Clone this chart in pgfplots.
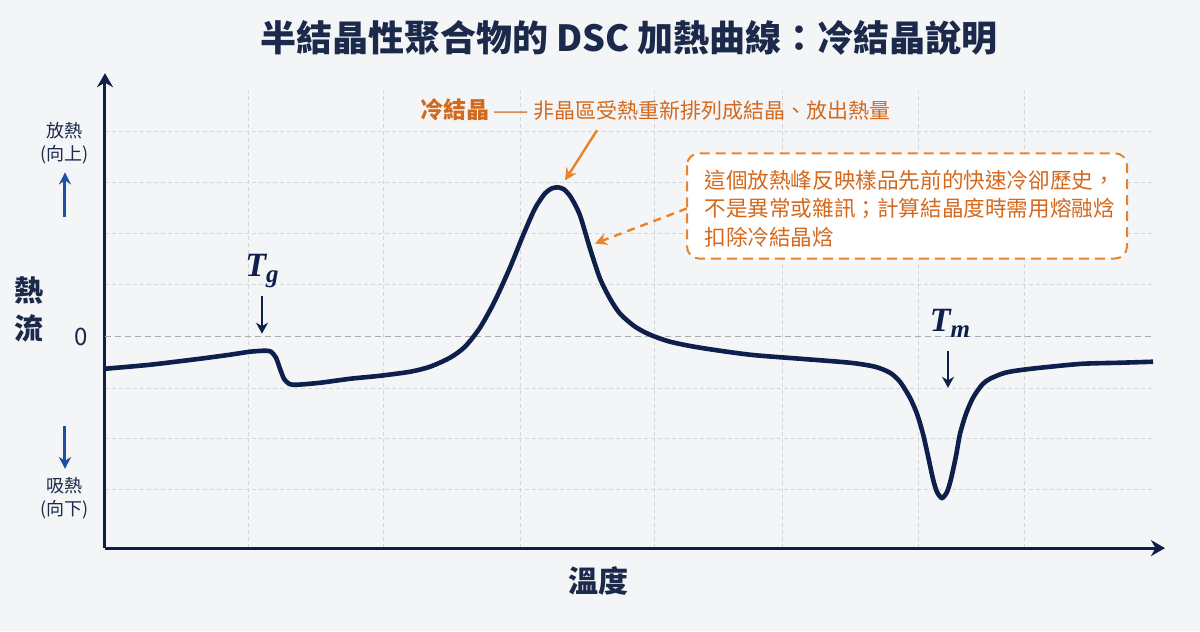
\documentclass[border=0pt]{standalone}
\usepackage{fontspec}
\setmainfont{Noto Sans CJK TC}
\newfontfamily\tfont{Liberation Serif}
\usepackage{pgfplots}
\pgfplotsset{compat=1.18}
\usetikzlibrary{arrows.meta,backgrounds}
\definecolor{navy}{HTML}{0F1F4B}
\definecolor{titlecol}{HTML}{1B2A4A}
\definecolor{bgcol}{HTML}{F4F5F7}
\definecolor{orangetxt}{HTML}{D4681C}
\definecolor{orangeln}{HTML}{E8842A}
\definecolor{bluearr}{HTML}{1F4FA3}
\definecolor{gridcol}{HTML}{D4D6DA}
\definecolor{zerocol}{HTML}{A8AAAE}
\begin{document}
\begin{tikzpicture}
\begin{axis}[
  scale only axis, width=525pt, height=228.5pt,
  xmin=105, xmax=1155, ymin=-211, ymax=246,
  axis lines=left,
  axis line style={line width=1.5pt, navy},
  x axis line style={-{Stealth[length=7pt,width=8pt]}, shorten >=-5pt},
  y axis line style={-{Stealth[length=7pt,width=8pt]}, shorten >=-8.5pt},
  xtick={249,383,520,654,782,918,1024},
  ytick={-153,-102,-52,52,103,154,205},
  xticklabels={,,,,,,}, yticklabels={,,,,,,},
  major tick length=0pt,
  grid=major,
  grid style={gridcol, line width=0.5pt, dash pattern=on 2pt off 1.5pt},
  extra y ticks={0},
  extra y tick labels={0},
  extra y tick style={grid style={zerocol, line width=0.8pt, dash pattern=on 3pt off 2pt},
     yticklabel style={font=\fontsize{12}{12}\selectfont, text=titlecol, xshift=-5pt}},
  clip=false,
]
\coordinate (bgA) at (axis cs:0,336);
\coordinate (bgB) at (axis cs:1200,-294);

\addplot[navy, line width=2.3pt, smooth, tension=0.45] coordinates {
(105,-32) (150,-28) (200,-22) (230,-18) (250,-15) (265,-14) (271,-15) (276,-21)
(280,-32) (284,-42) (289,-47) (296,-48) (320,-46) (350,-42) (380,-39) (410,-35)
(430,-30) (450,-21) (465,-10) (480,9) (495,36) (510,69) (523,101) (535,128)
(545,143) (552,148) (558,149) (564,147) (571,139) (580,121) (590,88) (600,58)
(610,38) (620,23) (635,10) (650,2) (670,-5) (700,-11) (750,-18) (800,-22)
(850,-26) (875,-30) (890,-36) (900,-45) (910,-61) (917,-77) (923,-97) (928,-119)
(933,-142) (937,-155) (942,-161) (947,-155) (951,-142) (956,-119) (960,-97)
(966,-77) (973,-61) (982,-48) (990,-42) (1005,-36) (1023,-33) (1050,-30)
(1083,-27) (1120,-26) (1153,-25)
};

% title
\node[font=\fontsize{18}{18}\selectfont\bfseries, text=titlecol] at (axis cs:629,298)
  {半結晶性聚合物的 DSC 加熱曲線：冷結晶說明};
% y label
\node[font=\fontsize{14.5}{19}\selectfont\bfseries, text=titlecol, align=center] at (axis cs:29,27) {熱\\流};
% exo / endo
\node[font=\fontsize{9}{11.5}\selectfont, text=titlecol, align=center] at (axis cs:65,193) {放熱\\(向上)};
\draw[bluearr, line width=1.5pt, -{Stealth[length=6pt,width=6pt]}] (axis cs:65,119) -- (axis cs:65,164);
\draw[bluearr, line width=1.5pt, -{Stealth[length=6pt,width=6pt]}] (axis cs:65,-89) -- (axis cs:65,-132);
\node[font=\fontsize{9}{11.5}\selectfont, text=titlecol, align=center] at (axis cs:65,-161) {吸熱\\(向下)};
% x label
\node[font=\fontsize{15}{15}\selectfont\bfseries, text=titlecol] at (axis cs:598,-244) {溫度};
% Tg, Tm
\node[font=\tfont\fontsize{17}{17}\selectfont\bfseries\itshape, text=navy] at (axis cs:262,66)
  {T\raisebox{-3pt}{\fontsize{12.5}{12.5}\selectfont g}};
\draw[navy, line width=1pt, -{Stealth[length=5.5pt,width=6pt]}] (axis cs:262,41) -- (axis cs:262,3);
\node[font=\tfont\fontsize{17}{17}\selectfont\bfseries\itshape, text=navy] at (axis cs:950,13)
  {T\raisebox{-3pt}{\fontsize{12.5}{12.5}\selectfont m}};
\draw[navy, line width=1pt, -{Stealth[length=5.5pt,width=6pt]}] (axis cs:948,-14) -- (axis cs:948,-51);
% cold crystallization annotation
\node[anchor=west, text=orangetxt, inner sep=0pt] at (axis cs:420,226)
  {{\fontsize{11.5}{11.5}\selectfont\bfseries 冷結晶} {\fontsize{10.5}{10.5}\selectfont —— 非晶區受熱重新排列成結晶、放出熱量}};
\draw[orangeln, line width=1.2pt, -{Stealth[length=6pt,width=6pt]}] (axis cs:597,206) -- (axis cs:565,156);
% box
\draw[orangeln, line width=1pt, dash pattern=on 5pt off 3pt, rounded corners=6pt, fill=white]
  (axis cs:687,183) rectangle (axis cs:1127,78);
\draw[orangeln, line width=1.2pt, dash pattern=on 4pt off 3pt, -{Stealth[length=6pt,width=6pt]}]
  (axis cs:687,128) -- (axis cs:595,93);
\node[anchor=west, inner sep=0pt, text=orangetxt, font=\fontsize{10.8}{10.8}\selectfont] at (axis cs:704,156) {這個放熱峰反映樣品先前的快速冷卻歷史，};
\node[anchor=west, inner sep=0pt, text=orangetxt, font=\fontsize{10.8}{10.8}\selectfont] at (axis cs:704,128) {不是異常或雜訊；計算結晶度時需用熔融焓};
\node[anchor=west, inner sep=0pt, text=orangetxt, font=\fontsize{10.8}{10.8}\selectfont] at (axis cs:704,99) {扣除冷結晶焓};
\end{axis}
\begin{scope}[on background layer]
\fill[bgcol] (bgA) rectangle (bgB);
\end{scope}
\end{tikzpicture}
\end{document}
